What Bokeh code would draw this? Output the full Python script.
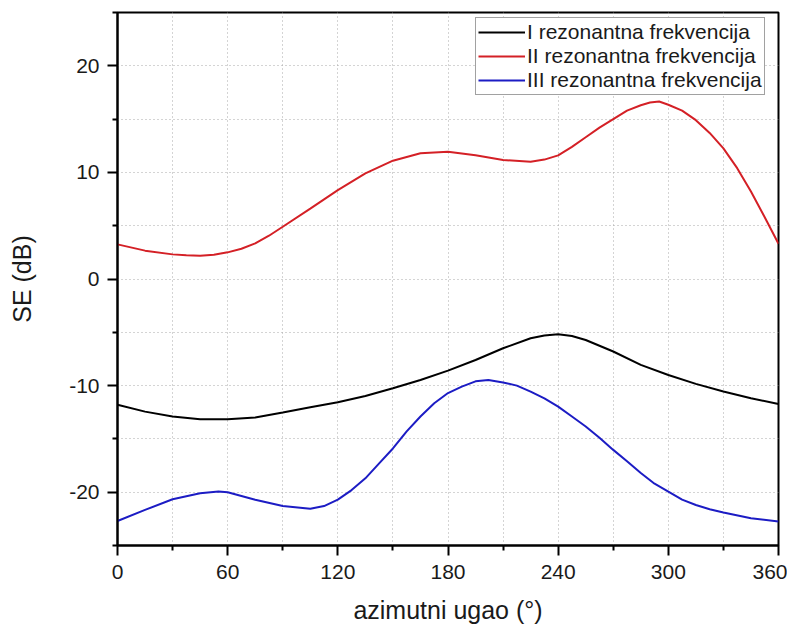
from bokeh.plotting import figure
from bokeh.models import Range1d, FixedTicker, Legend, LegendItem
from bokeh.embed import file_html
from bokeh.resources import INLINE

# Data
angles_black = [0, 15, 30, 45, 60, 75, 90, 105, 120, 135, 150, 165, 180,
                195, 210, 225, 232.5, 240, 247.5, 255, 270, 285, 300, 315,
                330, 345, 360]
se_black = [-11.8, -12.44, -12.9, -13.16, -13.16, -13.0, -12.53, -12.03,
            -11.56, -10.97, -10.25, -9.47, -8.6, -7.6, -6.5, -5.56, -5.3,
            -5.19, -5.34, -5.72, -6.8, -8.06, -9.0, -9.84, -10.56, -11.19,
            -11.72]

angles_red = [0, 15, 30, 37.5, 45, 52.5, 60, 67.5, 75, 82.5, 90, 105, 120,
              135, 150, 165, 180, 195, 210, 225, 232.5, 240, 247.5, 255,
              262.5, 270, 277.5, 285, 290, 295, 300, 307.5, 315, 322.5, 330,
              337.5, 345, 352.5, 360]
se_red = [3.25, 2.66, 2.31, 2.22, 2.19, 2.28, 2.5, 2.84, 3.34, 4.06, 4.9,
          6.6, 8.34, 9.9, 11.1, 11.8, 11.94, 11.6, 11.16, 11.0, 11.2, 11.6,
          12.4, 13.3, 14.2, 15.0, 15.8, 16.3, 16.55, 16.65, 16.35, 15.8,
          14.9, 13.7, 12.25, 10.4, 8.2, 5.8, 3.3]

angles_blue = [0, 15, 30, 45, 55, 60, 75, 90, 105, 112.5, 120, 127.5, 135,
               142.5, 150, 157.5, 165, 172.5, 180, 187.5, 195, 202, 210,
               217.5, 225, 232.5, 240, 247.5, 255, 262.5, 270, 277.5, 285,
               292.5, 300, 307.5, 315, 322.5, 330, 345, 360]
se_blue = [-22.7, -21.66, -20.66, -20.1, -19.94, -20.0, -20.7, -21.3, -21.56,
           -21.3, -20.7, -19.8, -18.7, -17.3, -15.9, -14.3, -12.9, -11.66,
           -10.7, -10.1, -9.6, -9.47, -9.7, -10.0, -10.56, -11.2, -11.97,
           -12.9, -13.84, -14.9, -16.03, -17.1, -18.2, -19.2, -19.94, -20.7,
           -21.2, -21.6, -21.9, -22.44, -22.75]

series_labels = ["I rezonantna frekvencija", "II rezonantna frekvencija",
                 "III rezonantna frekvencija"]
x_major = [0, 60, 120, 180, 240, 300, 360]
x_minor = [30, 90, 150, 210, 270, 330]
y_major = [-20, -10, 0, 10, 20]
y_minor = [-25, -15, -5, 5, 15, 25]

FONT = "Liberation Sans"

p = figure(width=787, height=629, output_backend="svg", toolbar_location=None,
           x_range=Range1d(0, 360), y_range=Range1d(-25, 25),
           min_border_left=117, min_border_right=9, min_border_top=12,
           min_border_bottom=84)
p.background_fill_color = "white"
p.border_fill_color = "white"
p.outline_line_color = "black"
p.outline_line_width = 2

# axes
for ax in (p.xaxis[0], p.yaxis[0]):
    ax.axis_line_width = 2
    ax.axis_line_color = "black"
    ax.major_tick_line_width = 2
    ax.minor_tick_line_width = 2
    ax.major_tick_line_color = "black"
    ax.minor_tick_line_color = "black"
    ax.major_tick_in = 0
    ax.major_tick_out = 10
    ax.minor_tick_in = 0
    ax.minor_tick_out = 5
    ax.major_label_text_font = FONT
    ax.major_label_text_font_size = "21px"
    ax.major_label_text_color = "#1a1a1a"
    ax.axis_label_text_font = FONT
    ax.axis_label_text_font_size = "25px"
    ax.axis_label_text_font_style = "normal"
    ax.axis_label_text_color = "#1a1a1a"

p.xaxis[0].ticker = FixedTicker(ticks=x_major, minor_ticks=x_minor)
p.yaxis[0].ticker = FixedTicker(ticks=y_major, minor_ticks=y_minor)
p.yaxis[0].major_label_overrides = {v: str(v) for v in y_major}
p.xaxis[0].axis_label = "azimutni ugao (°)"
p.yaxis[0].axis_label = "SE (dB)"
p.xaxis[0].major_label_standoff = 9
p.yaxis[0].major_label_standoff = 8
p.xaxis[0].axis_label_standoff = 14
p.yaxis[0].axis_label_standoff = 30

# grids (dotted, major + minor)
for g in (p.xgrid[0], p.ygrid[0]):
    g.grid_line_color = "#a8a8a8"
    g.grid_line_dash = "1 3"
    g.grid_line_width = 1
    g.minor_grid_line_color = "#a8a8a8"
    g.minor_grid_line_dash = "1 3"
    g.minor_grid_line_width = 1

r1 = p.line(angles_black, se_black, line_color="black", line_width=2)
r2 = p.line(angles_red, se_red, line_color="#d42026", line_width=2)
r3 = p.line(angles_blue, se_blue, line_color="#1c1cc4", line_width=2)

legend = Legend(items=[LegendItem(label=series_labels[0], renderers=[r1]),
                       LegendItem(label=series_labels[1], renderers=[r2]),
                       LegendItem(label=series_labels[2], renderers=[r3])],
                location=(358, 450))
legend.label_text_font = FONT
legend.label_text_font_size = "21px"
legend.label_text_color = "#1a1a1a"
legend.glyph_width = 47
legend.glyph_height = 24
legend.label_height = 24
legend.label_standoff = 2
legend.spacing = 0
legend.padding = 2
legend.margin = 0
legend.border_line_color = "#444444"
legend.border_line_width = 1
legend.background_fill_color = "white"
legend.background_fill_alpha = 1
p.add_layout(legend)

open("out.html", "w").write(file_html(p, INLINE))
